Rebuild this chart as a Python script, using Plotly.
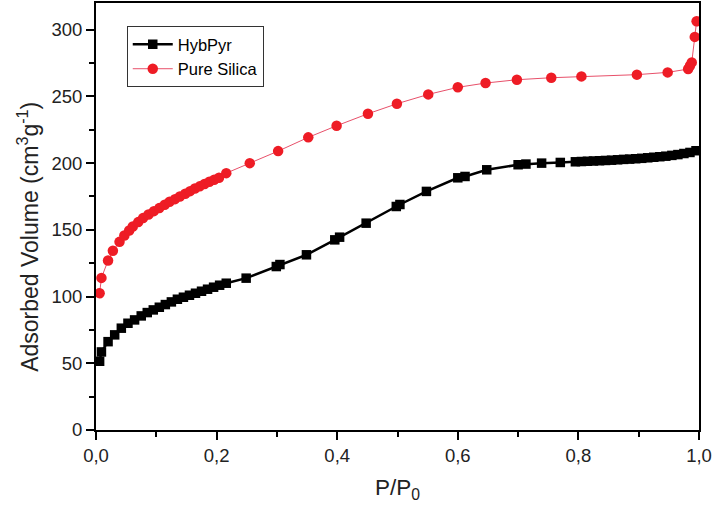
import plotly.graph_objects as go

# HybPyr (black squares)
hyb_x = [0.006, 0.009, 0.020, 0.031, 0.042, 0.053, 0.064, 0.075, 0.085, 0.095,
         0.105, 0.115, 0.125, 0.135, 0.145, 0.155, 0.165, 0.175, 0.185, 0.195,
         0.205, 0.216, 0.249, 0.299, 0.305, 0.349, 0.396, 0.404, 0.448, 0.498,
         0.504, 0.548, 0.600, 0.612, 0.648, 0.700, 0.713, 0.739, 0.770, 0.795,
         0.805, 0.815, 0.825, 0.835, 0.845, 0.855, 0.865, 0.875, 0.885, 0.895,
         0.905, 0.915, 0.925, 0.935, 0.945, 0.955, 0.965, 0.975, 0.985, 0.995]
hyb_y = [51.5, 58.5, 66.2, 71.3, 76.3, 80.0, 82.5, 85.5, 88.0, 90.0,
         92.0, 94.0, 96.0, 98.0, 99.5, 101.0, 102.5, 104.0, 105.5, 107.0,
         108.5, 110.0, 113.8, 122.5, 124.0, 131.3, 142.5, 144.5, 155.0, 167.5,
         169.0, 178.8, 189.0, 190.0, 195.0, 198.8, 199.3, 200.0, 200.5, 201.0,
         201.2, 201.4, 201.6, 201.8, 202.0, 202.2, 202.5, 202.8, 203.0, 203.3,
         203.6, 204.0, 204.4, 204.8, 205.2, 205.8, 206.4, 207.2, 208.0, 209.3]

# Pure Silica (red circles)
si_x = [0.006, 0.009, 0.020, 0.028, 0.039, 0.047, 0.055, 0.061, 0.070, 0.078,
        0.087, 0.096, 0.105, 0.114, 0.122, 0.131, 0.139, 0.148, 0.156, 0.164,
        0.172, 0.180, 0.188, 0.196, 0.204, 0.216, 0.255, 0.302, 0.352, 0.399,
        0.451, 0.499, 0.551, 0.600, 0.646, 0.698, 0.755, 0.805, 0.897, 0.948,
        0.982, 0.985, 0.988, 0.993, 0.996]
si_y = [102.5, 114.0, 127.0, 134.3, 141.0, 145.7, 149.5, 152.5, 155.8, 158.8,
        161.5, 164.0, 166.3, 168.8, 171.0, 173.0, 175.0, 177.0, 179.0, 181.0,
        182.6, 184.3, 186.0, 187.6, 189.0, 192.5, 200.0, 209.0, 219.3, 228.0,
        237.0, 244.5, 251.5, 256.8, 260.0, 262.5, 264.0, 265.0, 266.3, 268.0,
        270.5, 273.0, 275.5, 294.6, 306.3]

x_tickvals = [0.0, 0.2, 0.4, 0.6, 0.8, 1.0]
x_ticktext = ["0,0", "0,2", "0,4", "0,6", "0,8", "1,0"]
y_tickvals = [0, 50, 100, 150, 200, 250, 300]

font_family = "Liberation Sans, Arial, sans-serif"

fig = go.Figure()
fig.add_trace(go.Scatter(
    x=hyb_x, y=hyb_y, name="HybPyr", mode="lines+markers",
    line=dict(color="black", width=2.5),
    marker=dict(symbol="square", size=9.5, color="black"),
))
fig.add_trace(go.Scatter(
    x=si_x, y=si_y, name="Pure Silica", mode="lines+markers",
    line=dict(color="#E8506A", width=1),
    marker=dict(symbol="circle", size=10.5, color="#EE1C25"),
))

axis_common = dict(
    showline=True, linecolor="black", linewidth=2, mirror=True,
    ticks="outside", ticklen=8, tickwidth=1.5, tickcolor="black",
    showgrid=False, zeroline=False,
    tickfont=dict(family=font_family, size=18.5, color="#222"),
)

fig.update_xaxes(
    range=[0, 1.0], tickvals=x_tickvals, ticktext=x_ticktext,
    minor=dict(ticks="outside", ticklen=5, tickwidth=1.5, tickcolor="black", dtick=0.1, tick0=0),
    title=dict(text="P/P<sub>0</sub>", font=dict(family=font_family, size=22.5, color="#222"), standoff=14),
    **axis_common,
)
fig.update_yaxes(
    range=[0, 320], tickvals=y_tickvals,
    minor=dict(ticks="outside", ticklen=5, tickwidth=1.5, tickcolor="black", dtick=25, tick0=0),
    **axis_common,
)

fig.add_annotation(
    text="Adsorbed Volume (cm<sup>3</sup>g<sup>-1</sup>)",
    xref="paper", yref="paper", x=-0.113, y=0.452,
    xanchor="center", yanchor="middle", textangle=-90, showarrow=False,
    font=dict(family=font_family, size=23, color="#222"),
)

fig.update_layout(
    width=715, height=507,
    margin=dict(l=96, r=16, t=3, b=77, autoexpand=False),
    paper_bgcolor="white", plot_bgcolor="white",
    showlegend=True,
    legend=dict(
        x=0.051, y=0.946, xanchor="left", yanchor="top",
        bgcolor="white", bordercolor="#333", borderwidth=1,
        font=dict(family=font_family, size=16.5, color="black"),
        itemwidth=40, tracegroupgap=0,
    ),
)

fig.write_html("out.html", config={"displayModeBar": False},
               post_script="document.body.style.margin='0';")
